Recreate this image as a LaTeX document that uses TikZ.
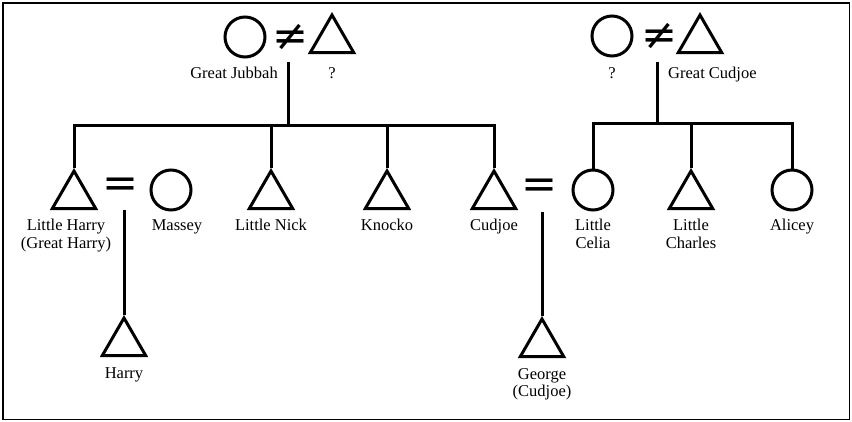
\documentclass[tikz,border=0pt]{standalone}
\usepackage{fontspec}
\setmainfont{Liberation Serif}
\newfontfamily\tiefont{DejaVu Sans}
\usetikzlibrary{shapes.geometric,positioning}

\begin{document}
\begin{tikzpicture}[x=1pt,y=-1pt]

	\tikzstyle{edge} = [draw,-,line width=3pt]
	\tikzset{male/.style = {shape=regular polygon,regular polygon sides=3,draw,line width=3pt,minimum size=50pt,inner sep=0pt}}
	\tikzset{female/.style = {shape=circle,draw,line width=3pt,minimum size=40pt,inner sep=0pt}}
	\tikzset{kin/.style = {font=\fontsize{16.5}{17.5}\selectfont,align=center,inner sep=0pt}}
	\tikzset{tie/.style = {font=\tiefont\fontsize{43}{43}\selectfont,inner sep=0pt}}

	\useasboundingbox (0,0) rectangle (852,421);
	\draw[line width=1.6pt] (3,3) rectangle (849.5,419.5);

	% first generation
	\node[female] (gjubbah) at (245,37) {};
	\node[tie] (ne1) at (291,37) {≠};
	\node[male] (unkf) at (332,40) {};
	\node[kin,anchor=base east] at (278,78) {Great Jubbah};
	\node[kin,anchor=base] at (332,78) {?};

	\node[female] (unkm) at (612,36) {};
	\node[tie] (ne2) at (660,36) {≠};
	\node[male] (gcudjoe) at (700,40) {};
	\node[kin,anchor=base] at (612,78) {?};
	\node[kin,anchor=base west] at (668,78) {Great Cudjoe};

	% second generation
	\node[male] (lharry) at (74,196) {};
	\node[tie] (eq1) at (121,188) {=};
	\node[female] (massey) at (171,190) {};
	\node[male] (lnick) at (271,196) {};
	\node[male] (knocko) at (387,196) {};
	\node[male] (cudjoe) at (494,196) {};
	\node[tie] (eq2) at (540,189) {=};
	\node[female] (celia) at (593,190) {};
	\node[male] (charles) at (691,196) {};
	\node[female] (alicey) at (792,190) {};

	\node[kin,below=9pt of lharry,xshift=-8pt] {Little Harry\\(Great Harry)};
	\node[kin,below=7.5pt of massey,xshift=6pt] {Massey};
	\node[kin,below=9pt of lnick] {Little Nick};
	\node[kin,below=9pt of knocko] {Knocko};
	\node[kin,below=9pt of cudjoe] {Cudjoe};
	\node[kin,below=7.5pt of celia] {Little\\Celia};
	\node[kin,below=9pt of charles] {Little\\Charles};
	\node[kin,below=7.5pt of alicey] {Alicey};

	% third generation
	\node[male] (harry) at (124,343) {};
	\node[male] (george) at (542,344) {};
	\node[kin,below=10pt of harry] {Harry};
	\node[kin,below=10pt of george] {George\\(Cudjoe)};

	% descent lines
	\coordinate (jstem) at (288,62);
	\coordinate (jbar) at (288,125);
	\draw[edge] (jstem) -- (jbar);
	\draw[edge] (lharry.north) |- (jbar) -| (cudjoe.north);
	\draw[edge] (lnick.north) -- (lnick.north |- jbar);
	\draw[edge] (knocko.north) -- (knocko.north |- jbar);

	\coordinate (cstem) at (657,62);
	\coordinate (cbar) at (657,123);
	\draw[edge] (cstem) -- (cbar);
	\draw[edge] (celia.north) |- (cbar) -| (alicey.north);
	\draw[edge] (charles.north) -- (charles.north |- cbar);

	\coordinate (hstem) at (124,210);
	\draw[edge] (hstem) -- (harry.north);
	\coordinate (gstem) at (542,212);
	\draw[edge] (gstem) -- (george.north);
	\end{tikzpicture}
\end{document}
